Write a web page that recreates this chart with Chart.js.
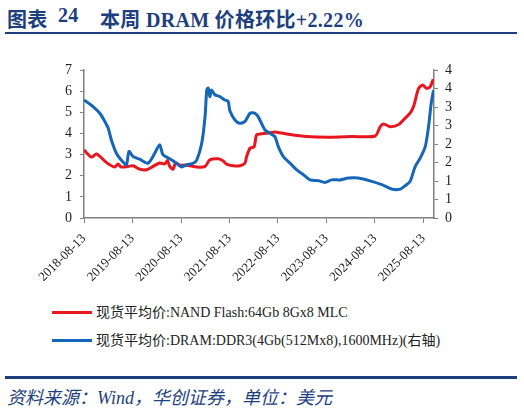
<!DOCTYPE html>
<html>
<head>
<meta charset="utf-8">
<script src="https://cdn.jsdelivr.net/npm/chart.js@4.4.1/dist/chart.umd.min.js"></script>
<style>
  body { margin: 0; background: #fff; width: 524px; height: 413px; position: relative; overflow: hidden; }
  .ttl { position: absolute; top: 4px; font: bold 20px "Liberation Serif", "Noto Sans CJK SC", serif; color: #1d3f7d; white-space: pre; letter-spacing: 0.3px; }
  .rule { position: absolute; left: 5px; width: 512px; background: #1d3f7d; }
  #chart { position: absolute; left: 0; top: 0; }
  .leg { position: absolute; left: 52px; font: 14px "Liberation Serif", "Noto Sans CJK SC", serif; color: #222; white-space: pre; }
  .leg span { display: inline-block; width: 40px; height: 3px; vertical-align: middle; margin-right: 4px; position: relative; top: -1px; }
  #source { position: absolute; left: 7px; top: 383px; font: italic 18px "Liberation Serif", "Noto Sans CJK SC", serif; color: #1d3f7d; white-space: pre; }
</style>
</head>
<body>
<div class="ttl" style="left:7px">图表</div>
<div class="ttl" style="left:58px">24</div>
<div class="ttl" style="left:100px">本周 DRAM 价格环比+2.22%</div>
<div class="rule" style="top:31.5px;height:2px"></div>
<canvas id="chart" width="524" height="300"></canvas>
<div class="leg" style="top:301px"><span style="background:#e8161f"></span>现货平均价:NAND Flash:64Gb 8Gx8 MLC</div>
<div class="leg" style="top:329px"><span style="background:#1565b8"></span>现货平均价:DRAM:DDR3(4Gb(512Mx8),1600MHz)(右轴)</div>
<div class="rule" style="top:376px;height:3px"></div>
<div id="source">资料来源：Wind，华创证券，单位：美元</div>
<script>
// NAND Flash spot price (left axis)
const nandDates = ['2018-08-13','2018-10-08','2018-11-15','2019-01-30','2019-04-01','2019-04-26','2019-05-20','2019-07-10',
  '2019-08-18','2019-10-05','2019-11-27','2020-01-15','2020-03-05','2020-04-13','2020-05-03','2020-05-20','2020-06-15',
  '2020-07-03','2020-08-05','2020-09-25','2020-12-10','2021-02-10','2021-03-18','2021-05-20','2021-06-27','2021-07-22',
  '2021-09-10','2021-10-30','2021-12-08','2021-12-20','2022-01-15','2022-02-15','2022-03-05','2022-04-12','2022-07-10',
  '2022-08-05','2022-11-02','2023-03-17','2023-09-01','2024-02-23','2024-08-15','2024-09-22','2024-10-18','2024-12-06',
  '2025-02-08','2025-03-28','2025-05-05','2025-06-01','2025-07-08','2025-08-08','2025-09-07','2025-10-03','2025-10-26'];
const nandPrices = [3.22,2.88,3.03,2.62,2.41,2.55,2.41,2.44,
  2.47,2.31,2.28,2.44,2.60,2.56,2.72,2.44,2.31,
  2.60,2.50,2.50,2.41,2.44,2.75,2.80,2.70,2.55,
  2.47,2.47,2.60,2.90,3.30,3.37,3.93,3.98,4.06,
  4.06,3.96,3.85,3.82,3.85,3.88,4.32,4.45,4.32,
  4.42,4.72,4.96,5.30,6.13,6.29,6.13,6.20,6.56];

// DRAM DDR3 spot price (right axis)
const dramDates = ['2018-08-13','2018-10-20','2018-12-10','2019-01-17','2019-02-11','2019-03-07','2019-04-14','2019-05-20',
  '2019-06-28','2019-07-18','2019-08-18','2019-10-06','2019-12-08','2020-01-28','2020-03-05','2020-03-30','2020-05-20',
  '2020-07-10','2020-08-18','2020-09-25','2020-11-13','2020-12-10','2021-01-16','2021-02-10','2021-02-23','2021-03-06',
  '2021-03-18','2021-03-31','2021-04-25','2021-06-01','2021-07-09','2021-08-03','2021-08-16','2021-09-23','2021-10-30',
  '2021-12-08','2022-01-15','2022-02-22','2022-03-17','2022-05-07','2022-06-14','2022-07-21','2022-08-16','2022-09-23',
  '2022-11-13','2023-01-02','2023-02-21','2023-04-12','2023-06-13','2023-08-02','2023-09-22','2023-11-24','2024-01-26',
  '2024-04-10','2024-07-20','2024-10-04','2024-12-19','2025-02-20','2025-03-28','2025-05-05','2025-06-12','2025-07-20',
  '2025-08-27','2025-09-21','2025-10-11','2025-10-28'];
const dramPrices = [3.19,3.01,2.83,2.61,2.43,2.11,1.75,1.57,
  1.44,1.80,1.66,1.59,1.48,1.75,1.98,1.71,1.60,
  1.48,1.38,1.44,1.48,1.57,2.02,2.74,3.46,3.51,
  3.28,3.46,3.33,3.28,3.19,3.15,2.90,2.65,2.56,
  2.61,2.83,2.83,2.74,2.38,2.29,2.20,1.93,1.66,
  1.48,1.30,1.17,1.03,1.01,0.96,1.03,1.03,1.08,
  1.08,0.99,0.90,0.78,0.78,0.87,0.99,1.39,1.62,
  1.93,2.47,3.10,3.45];

const xTickLabels = ['2018-08-13','2019-08-13','2020-08-13','2021-08-13','2022-08-13','2023-08-13','2024-08-13','2025-08-13'];
const rightTickValues = [0, 0.5, 1, 1.5, 2, 2.5, 3, 3.5, 4];
const rightTickLabels = ['0','1','1','2','2','3','3','4','4'];
const startDate = '2018-08-13';
const endDate = '2025-11-01';

const dayOf = s => (Date.parse(s) - Date.parse(startDate)) / 86400000;
const toPoints = (dates, vals) => dates.map((d, i) => ({ x: dayOf(d), y: vals[i] }));

const tickFont = { family: 'Liberation Serif', size: 14 };
const axisColor = '#808080';

new Chart(document.getElementById('chart'), {
    type: 'line',
    data: {
        datasets: [{
            label: '现货平均价:NAND Flash:64Gb 8Gx8 MLC',
            data: toPoints(nandDates, nandPrices),
            borderColor: '#e8161f',
            borderWidth: 3,
            pointRadius: 0,
            tension: 0.25,
            yAxisID: 'y',
            order: 1
        }, {
            label: '现货平均价:DRAM:DDR3(4Gb(512Mx8),1600MHz)(右轴)',
            data: toPoints(dramDates, dramPrices),
            borderColor: '#1565b8',
            borderWidth: 3,
            pointRadius: 0,
            tension: 0.25,
            yAxisID: 'y1',
            order: 0
        }]
    },
    options: {
        responsive: false,
        animation: false,
        layout: { padding: { top: 70, left: 0, right: 0, bottom: 0 } },
        plugins: { legend: { display: false }, tooltip: { enabled: false } },
        scales: {
            x: {
                type: 'linear',
                min: 0,
                max: dayOf(endDate),
                afterBuildTicks: axis => { axis.ticks = xTickLabels.map(s => ({ value: dayOf(s) })); },
                afterFit: axis => { axis.height = 82; },
                ticks: {
                    autoSkip: false,
                    maxRotation: 45,
                    minRotation: 45,
                    padding: 8,
                    color: '#222',
                    font: { family: 'Liberation Serif', size: 13 },
                    callback: (v, i) => xTickLabels[i]
                },
                grid: { drawOnChartArea: false, drawTicks: true, tickLength: 5, color: axisColor },
                border: { color: axisColor, width: 1.5 }
            },
            y: {
                position: 'left',
                min: 0,
                max: 7,
                afterFit: axis => { axis.width = 84; },
                ticks: { stepSize: 1, color: '#222', font: tickFont, padding: 8 },
                grid: { drawOnChartArea: false, drawTicks: true, tickLength: 4, color: axisColor },
                border: { color: axisColor, width: 1.5 }
            },
            y1: {
                position: 'right',
                min: 0,
                max: 4,
                afterBuildTicks: axis => { axis.ticks = rightTickValues.map(v => ({ value: v })); },
                afterFit: axis => { axis.width = 90; },
                ticks: { autoSkip: false, color: '#222', font: tickFont, padding: 7,
                         callback: (v, i) => rightTickLabels[i] },
                grid: { drawOnChartArea: false, drawTicks: true, tickLength: 4, color: axisColor },
                border: { color: axisColor, width: 1.5 }
            }
        }
    }
});
</script>
</body>
</html>
